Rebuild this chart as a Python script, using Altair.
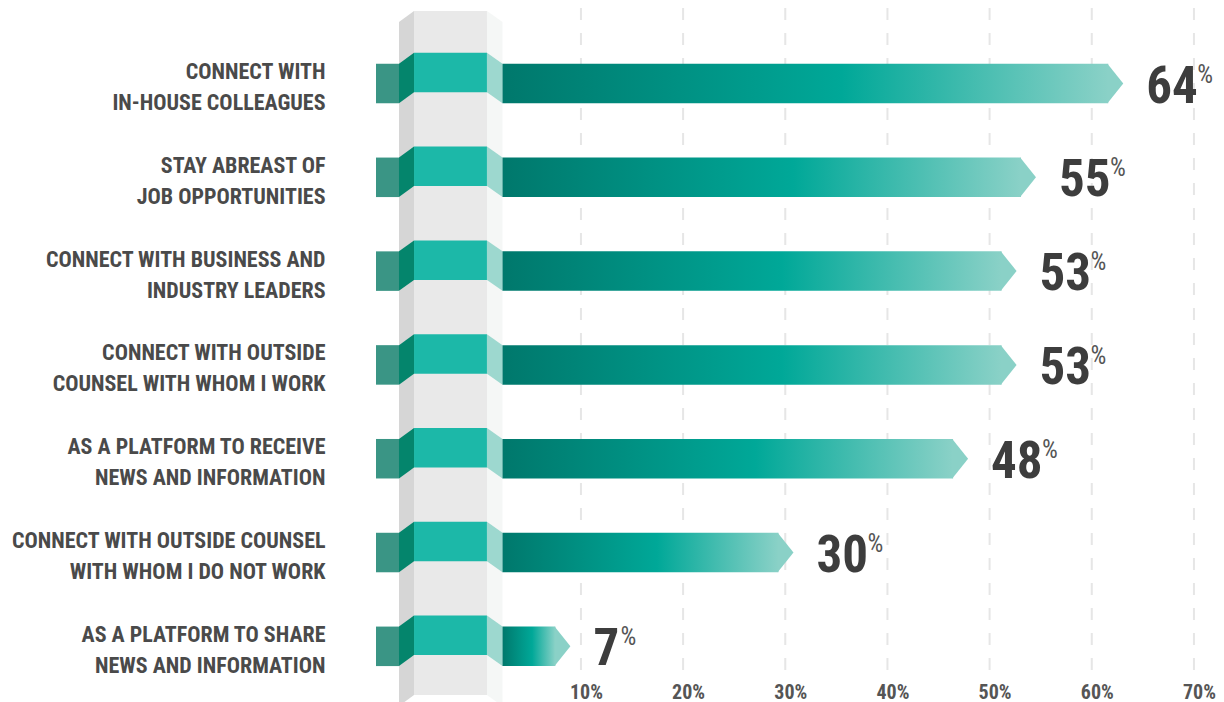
import json
import altair as alt
import pandas as pd

# ---------------- data ----------------
categories = [
    "CONNECT WITH|IN-HOUSE COLLEAGUES",
    "STAY ABREAST OF|JOB OPPORTUNITIES",
    "CONNECT WITH BUSINESS AND|INDUSTRY LEADERS",
    "CONNECT WITH OUTSIDE|COUNSEL WITH WHOM I WORK",
    "AS A PLATFORM TO RECEIVE|NEWS AND INFORMATION",
    "CONNECT WITH OUTSIDE COUNSEL|WITH WHOM I DO NOT WORK",
    "AS A PLATFORM TO SHARE|NEWS AND INFORMATION",
]
values = [64, 55, 53, 53, 48, 30, 7]
tick_values = [10, 20, 30, 40, 50, 60, 70]

# ---------------- style / geometry (data units) ----------------
FONT = "Roboto Condensed, Roboto, sans-serif"
HALF = 0.2106      # half bar height in row units
LIFT = 0.117       # perspective lift of the raised band
STUB_L, FOLD_L, BAND_L, BAND_R, FOLD_R = -13.04, -10.67, -9.12, -1.60, 0.0
COL_TOP, COL_BOT = -0.773, 6.519
NUM_SIZE = 51
DIGIT_W = 24

x_bar = alt.Scale(domain=[-13.04, 73.56], nice=False, zero=False)
x_grid = alt.Scale(domain=[-10.06, 72.16], nice=False, zero=False)
y_sc = alt.Scale(domain=[-0.805, 6.327], nice=False, zero=False, reverse=True)

label_expr = "split(" + json.dumps(categories) + "[datum.value], '|')"
y_axis = alt.Axis(
    values=list(range(len(categories))), labelExpr=label_expr, title=None,
    domain=False, ticks=False, grid=False, labelPadding=51, labelLimit=0,
    labelFont=FONT, labelFontSize=22, labelFontWeight="bold", labelColor="#4a4a4a",
    labelLineHeight=31, labelAlign="right", labelBaseline="middle", labelOverlap=False,
    labelOffset=-12,
)

def Y(field):
    return alt.Y(field, type="quantitative", scale=y_sc, axis=y_axis)

def X(field, scale=x_bar):
    return alt.X(field, type="quantitative", scale=scale, axis=None)

df = pd.DataFrame({"idx": list(range(len(values))), "value": values, "cat": categories})
df["start"] = 0
df["yt"] = df["idx"] - HALF
df["yb"] = df["idx"] + HALF
df["ytl"] = df["yt"] - LIFT
df["ybl"] = df["yb"] - LIFT
df["stub_l"] = STUB_L
df["fold_l"] = FOLD_L
df["band_l"] = BAND_L
df["band_r"] = BAND_R
df["vtxt"] = df["value"].astype(str)

# column (gray band) shapes
col_rows = [
    ("ls", FOLD_L, COL_TOP + LIFT, COL_BOT + LIFT, "#d6d6d6"),
    ("ls", BAND_L, COL_TOP, COL_BOT, "#d6d6d6"),
    ("mn", BAND_L, COL_TOP, COL_BOT, "#e9e9e9"),
    ("mn", BAND_R, COL_TOP, COL_BOT, "#e9e9e9"),
    ("rs", BAND_R, COL_TOP, COL_BOT, "#f5f7f6"),
    ("rs", FOLD_R, COL_TOP + LIFT, COL_BOT + LIFT, "#f5f7f6"),
]
col_df = pd.DataFrame(col_rows, columns=["shape", "x", "y", "y2", "col"])

# fold shapes for each row
fold_rows = []
for i in range(len(values)):
    yt, yb = i - HALF, i + HALF
    fold_rows += [
        (f"l{i}", FOLD_L, yt, yb, "#04856c"),
        (f"l{i}", BAND_L, yt - LIFT, yb - LIFT, "#04856c"),
        (f"r{i}", BAND_R, yt - LIFT, yb - LIFT, "#9dd8cf"),
        (f"r{i}", FOLD_R, yt, yb, "#9dd8cf"),
    ]
fold_df = pd.DataFrame(fold_rows, columns=["shape", "x", "y", "y2", "col"])

grid_df = pd.DataFrame({"t": tick_values})

# ---------------- layers ----------------
grid = alt.Chart(grid_df).mark_rule(strokeDash=[12, 13], color="#e6e6e6", strokeWidth=2).encode(
    x=alt.X("t:Q", scale=x_grid, axis=alt.Axis(
        values=tick_values, labelExpr="datum.value + '%'", title=None, domain=False,
        ticks=False, grid=False, labelFont=FONT, labelFontSize=20, labelFontWeight="bold",
        labelColor="#555555", labelPadding=21, labelBaseline="alphabetic",
        labelOffset=5, labelFlush=False, labelOverlap=False,
    ))
)

column = alt.Chart(col_df).mark_area(orient="vertical", interpolate="linear").encode(
    x=X("x"), y=Y("y"), y2="y2", detail="shape:N", color=alt.Color("col:N", scale=None)
)

stubs = alt.Chart(df).mark_rect(color="#3a9585").encode(
    x=X("stub_l"), x2="fold_l", y=Y("yt"), y2="yb"
)
bright = alt.Chart(df).mark_rect(color="#1cb8a8").encode(
    x=X("band_l"), x2="band_r", y=Y("ytl"), y2="ybl"
)
folds = alt.Chart(fold_df).mark_area(orient="vertical", interpolate="linear").encode(
    x=X("x"), y=Y("y"), y2="y2", detail="shape:N", color=alt.Color("col:N", scale=None)
)

grad = alt.Gradient(
    gradient="linear", x1=0, x2=1, y1=0, y2=0,
    stops=[
        alt.GradientStop(color="#00786c", offset=0),
        alt.GradientStop(color="#00a898", offset=0.56),
        alt.GradientStop(color="#8ad1c7", offset=1),
    ],
)
bars = alt.Chart(df).mark_rect(color=grad, x2Offset=-15).encode(
    x=X("start"), x2="value", y=Y("yt"), y2="yb"
)
tips = alt.Chart(df).mark_point(
    shape="M-0.8,-1L0,0L-0.8,1Z", size=1560, filled=True, color="#8ad1c7",
    opacity=1, strokeWidth=0,
).encode(x=X("value"), y=Y("idx"))

nums = alt.Chart(df).mark_text(
    align="left", baseline="alphabetic", dx=23, dy=19, font=FONT, fontSize=NUM_SIZE,
    fontWeight="bold", color="#3d3d3d",
).encode(x=X("value"), y=Y("idx"), text="vtxt:N")

pct_one = alt.Chart(df).transform_filter("datum.value < 10").mark_text(
    align="left", baseline="alphabetic", dx=23 + DIGIT_W + 3, dy=-1, font=FONT, fontSize=25,
    color="#555555",
).encode(x=X("value"), y=Y("idx"), text=alt.value("%"))
pct_two = alt.Chart(df).transform_filter("datum.value >= 10").mark_text(
    align="left", baseline="alphabetic", dx=23 + 2 * DIGIT_W + 3, dy=-1, font=FONT, fontSize=25,
    color="#555555",
).encode(x=X("value"), y=Y("idx"), text=alt.value("%"))

chart = alt.layer(
    grid, column, stubs, bright, folds, bars, tips, nums, pct_one, pct_two
).resolve_scale(x="independent").properties(
    width=840, height=669,
    autosize=alt.AutoSizeParams(type="none"),
    padding={"left": 368, "top": 0, "right": 0, "bottom": 25},
).configure_view(stroke=None)

chart.save("out.html", embed_options={"renderer": "svg", "actions": False})
